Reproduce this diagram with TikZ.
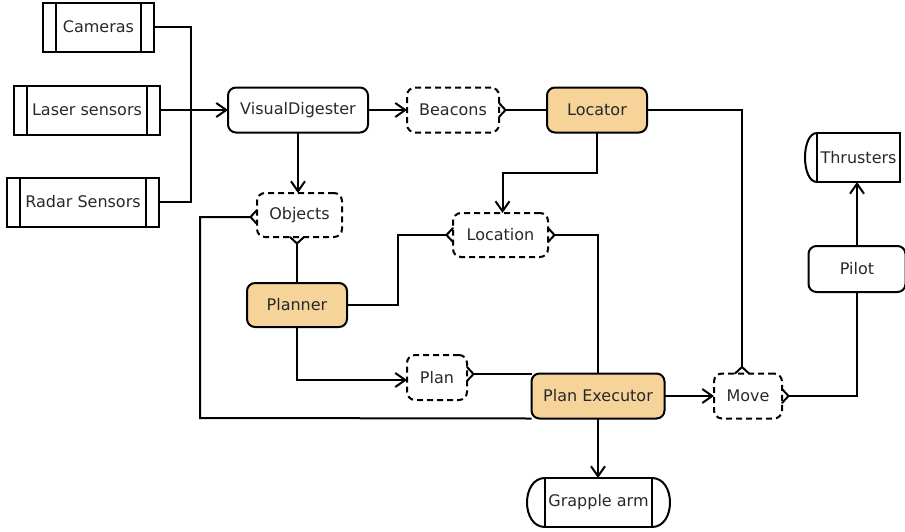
\documentclass[tikz,border=0pt]{standalone}
\usepackage{fontspec}
\setmainfont{DejaVu Sans}
\usetikzlibrary{arrows.meta}

\definecolor{actorfill}{RGB}{245,211,153}
\definecolor{labelgray}{RGB}{40,40,40}

\begin{document}
\begin{tikzpicture}[x=1pt,y=-1pt,line width=2pt,
  every node/.style={font=\fontsize{16}{19}\selectfont,text=labelgray,inner sep=0pt,outer sep=0pt},
  box/.style={draw,minimum height=45pt},
  actor/.style={box,rounded corners=8pt,fill=actorfill},
  proc/.style={box,rounded corners=8pt},
  store/.style={box,rounded corners=8pt,dash pattern=on 6pt off 4pt},
  device/.style={box,minimum height=49pt,
    path picture={
      \draw ([xshift=13pt]path picture bounding box.north west) -- ([xshift=13pt]path picture bounding box.south west);
      \draw ([xshift=-13pt]path picture bounding box.north east) -- ([xshift=-13pt]path picture bounding box.south east);}},
  effector/.style={box,minimum height=49pt},
  arr/.style={-{Straight Barb[length=10pt,width=14pt]}},
  % read link: the line stops at the vertex of a fork drawn at the store
  rt/.style={shorten >=6.5pt},
  forkright/.pic={\draw[line cap=round,line join=round] (-6.5,-7) -- (0,0) -- (-6.5,7);},
  forkleft/.pic={\draw[line cap=round,line join=round] (6.5,-7) -- (0,0) -- (6.5,7);},
  forkup/.pic={\draw[line cap=round,line join=round] (-7,6.5) -- (0,0) -- (7,6.5);},
  forkdown/.pic={\draw[line cap=round,line join=round] (-7,-6.5) -- (0,0) -- (7,-6.5);}
]
\useasboundingbox (0,0) rectangle (905,531);

% sensors
\node[device,minimum width=111pt] (cam) at (98.5,27) {Cameras};
\node[device,minimum width=146pt] (laser) at (87,110) {Laser sensors};
\node[device,minimum width=152pt] (radar) at (83,202) {Radar Sensors};

% processes and data
\node[proc,minimum width=140pt] (vd) at (298,110) {VisualDigester};
\node[store,minimum width=92pt] (beacons) at (453,110) {Beacons};
\node[actor,minimum width=100pt] (locator) at (597,110) {Locator};
\node[store,minimum width=85pt,minimum height=44pt] (obj) at (299.5,215) {Objects};
\node[store,minimum width=95pt,minimum height=44pt] (location) at (500.5,235) {Location};
\node[actor,minimum width=100pt,minimum height=44pt] (planner) at (297,305) {Planner};
\node[store,minimum width=60pt] (plan) at (437,377.5) {Plan};
\node[actor,minimum width=133pt] (pe) at (598,396) {Plan Executor};
\node[store,minimum width=68pt] (move) at (748,396) {Move};
\node[proc,minimum width=97pt,minimum height=46pt] (pilot) at (857,269) {Pilot};

% effectors
\node[effector,minimum width=83pt] (thr) at (858.5,157.5) {Thrusters};
\draw (thr.north west) .. controls ([xshift=-16pt]thr.north west) and ([xshift=-16pt]thr.south west) .. (thr.south west);
\node[effector,minimum width=107pt] (grapple) at (598.5,502.5) {Grapple arm};
\draw (grapple.north west) .. controls ([xshift=-24pt]grapple.north west) and ([xshift=-24pt]grapple.south west) .. (grapple.south west);
\draw (grapple.north east) .. controls ([xshift=24pt]grapple.north east) and ([xshift=24pt]grapple.south east) .. (grapple.south east);

% sensor bus
\coordinate (bus) at (191,110);
\draw (cam.east) -| (bus) |- (radar.east);
\draw[arr] (laser.east) -- (vd.west);

% anchor points where read links meet their stores
\coordinate (objS) at (planner.north |- obj.south);
\coordinate (objW) at ([yshift=-2pt]obj.west);
\coordinate (moveN) at ([xshift=-6pt]move.north);
\coordinate (planE) at (plan.east |- 0,374);

% connectors
\draw[arr] (vd.east) -- (beacons.west);
\draw[rt] (locator.west) -- (beacons.east);
\pic at ([xshift=6.5pt]beacons.east) {forkright};
\draw[arr] (vd.south) -- (vd.south |- obj.north);
\draw[rt] (locator.east) -| (moveN);
\pic at ([yshift=6.5pt]moveN) {forkup};
\draw[arr] (locator.south) -- ++(0,40.5) -| ([xshift=2pt]location.north);
\draw[rt] (planner.north) -- (objS);
\pic at ([yshift=-6.5pt]objS) {forkdown};
\draw[rt] (planner.east) -- ++(51,0) |- (location.west);
\pic at ([xshift=-6.5pt]location.west) {forkleft};
\draw[rt] (pe.north) |- (location.east);
\pic at ([xshift=6.5pt]location.east) {forkright};
\draw[arr] (planner.south) |- ([yshift=-2.5pt]plan.west);
\draw[rt] (pe.west |- planE) -- (planE);
\pic at ([xshift=6.5pt]planE) {forkright};
\draw[arr] (pe.east) -- (move.west);
\draw[shorten <=6.5pt] (move.east) -| (pilot.south);
\pic at ([xshift=6.5pt]move.east) {forkright};
\draw[arr] (pilot.north) -- (thr.south -| pilot.north);
\draw[arr] (pe.south) -- (grapple.north -| pe.south);
\draw[rt] (pe.south west) -- (200,418) |- (objW);
\pic at ([xshift=-6.5pt]objW) {forkleft};
\end{tikzpicture}
\end{document}
